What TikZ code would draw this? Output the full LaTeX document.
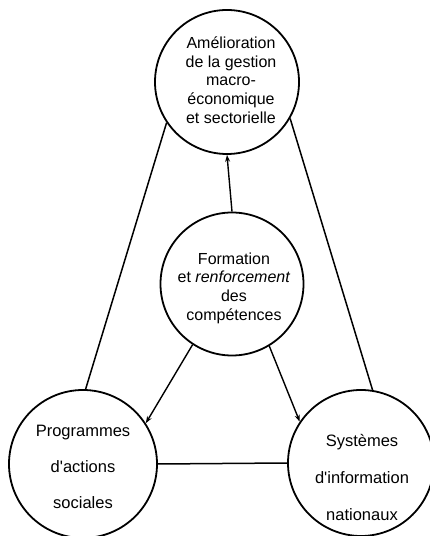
\documentclass[tikz,border=0pt]{standalone}
\usepackage{fontspec}
\setmainfont{Liberation Sans}
\usetikzlibrary{arrows.meta}
\begin{document}
\begin{tikzpicture}[x=1pt,y=1pt,
  circ/.style={circle,draw,line width=1.8pt,inner sep=0pt},
  lbl/.style={align=center,inner sep=0pt},
  link/.style={line width=1.5pt},
  arr/.style={line width=1.4pt,-{Stealth[length=7pt,width=5pt]}}]
\useasboundingbox (0,0) rectangle (430,536);
% circles
\node[circ,minimum size=144pt] (top) at (227,454) {};
\node[circ,minimum size=143pt] (mid) at (232,252) {};
\node[circ,minimum size=148pt] (left) at (83,72) {};
\node[circ,minimum size=146pt] (right) at (361,73) {};
% texts
\node[lbl,font=\fontsize{16}{18.8}\selectfont] (toptxt) at (231,456)
  {Amélioration\\de la gestion\\macro-\\économique\\et sectorielle};
\node[lbl,font=\fontsize{16}{18.6}\selectfont] (midtxt) at (234,248)
  {Formation\\et \emph{renforcement}\\des\\compétences};
\node[lbl,font=\fontsize{16.5}{36}\selectfont] (lefttxt) at (83,69)
  {Programmes\\d\textquotesingle actions\\sociales};
\node[lbl,font=\fontsize{16.5}{37}\selectfont] (righttxt) at (362,58)
  {Systèmes\\d\textquotesingle information\\nationaux};
% connectors
\draw[link] (top.214) -- (left.88);
\draw[link] (top.330) -- (right.81);
\draw[link] (left.east) -- (right.west);
\draw[arr] (mid.north) -- (top.south);
\draw[arr] (mid.237) -- (left.33);
\draw[arr] (mid.301) -- (right.146);
\end{tikzpicture}
\end{document}
